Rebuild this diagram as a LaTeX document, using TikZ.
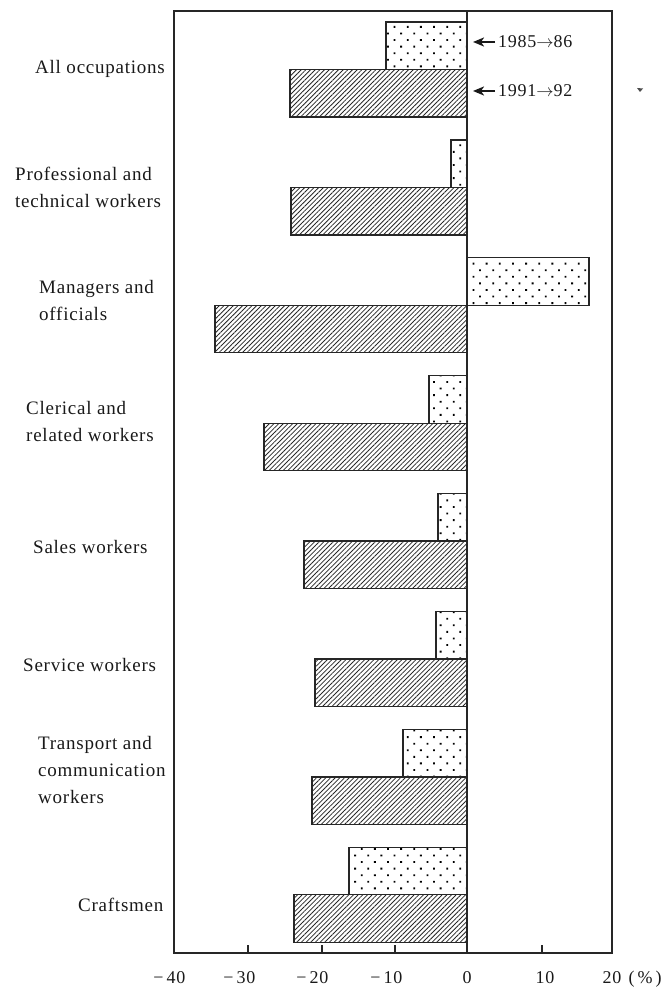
\documentclass[tikz,border=0pt]{standalone}
\usepackage{fontspec}
\setmainfont{Liberation Serif}[LetterSpace=4]
\usetikzlibrary{patterns.meta,arrows.meta}
\begin{document}
\begin{tikzpicture}[x=1pt,y=-1pt,
  lbl/.style={font=\fontsize{19}{27}\selectfont, inner sep=0pt, anchor=west, align=left, text=black!90},
  framestyle/.style={line width=1.4pt, draw=black!85},
  dotbar/.style={draw=black!85, line width=1.3pt, pattern color=black, pattern={Dots[distance=9.3pt,angle=45,radius=1.3pt]}},
  hatchbar/.style={draw=black!85, line width=1.3pt, pattern color=black!85, pattern={Lines[angle=45,distance=3.3pt,line width=0.8pt]}},
  ticklbl/.style={font=\fontsize{18}{20}\selectfont, inner sep=0pt, text=black!90},
  legarrow/.style={-{Stealth[length=11pt,width=9pt,inset=3pt]}, line width=2pt, draw=black!90, shorten <=3pt},
]
\useasboundingbox (0,0) rectangle (665,987);

% bars
\foreach \i/\d/\h in {0/386/290, 1/451/291, 2/589/215, 3/429/264, 4/438/304, 5/436/315, 6/403/312, 7/349/294} {
  \pgfmathsetmacro\t{22+117.9*\i}
  \draw[dotbar] (\d,\t) rectangle (467,\t+47.5);
  \draw[hatchbar] (\h,\t+47.5) rectangle (467,\t+95);
}

% frame and zero line
\coordinate (ftl) at (174,11);
\coordinate (fbr) at (612,953);
\draw[framestyle] (ftl) rectangle (fbr);
\coordinate (ztop) at (467,11);
\coordinate (zbot) at (467,953);
\draw[framestyle] (ztop) -- (zbot);

% ticks
\foreach \x in {248,322,395,542} {
  \draw[framestyle] (\x,953) -- ++(0,-8);
}

% tick labels
\node[ticklbl] (t40) at (176,978) {\llap{−\,}40};
\node[ticklbl] (t30) at (246,978) {\llap{−\,}30};
\node[ticklbl] (t20) at (319,978) {\llap{−\,}20};
\node[ticklbl] (t10) at (393,978) {\llap{−\,}10};
\node[ticklbl] (t0) at (467,978) {0};
\node[ticklbl] (tp10) at (545,978) {10};
\node[ticklbl] (tp20) at (612,978) {20};
\node[ticklbl] (pct) at (645,979) {(\,\%\,)};

% category labels
\node[lbl] (c1) at (35,69) {All occupations};
\node[lbl] (c2) at (15,187) {Professional and\\technical workers};
\node[lbl] (c3) at (39,300) {Managers and\\officials};
\node[lbl] (c4) at (26,421) {Clerical and\\related workers};
\node[lbl] (c5) at (33,547) {Sales workers};
\node[lbl] (c6) at (23,665) {Service workers};
\node[lbl] (c7) at (38,770) {Transport and\\communication\\workers};
\node[lbl] (c8) at (78,905) {Craftsmen};

% legend
\coordinate (a1) at (473,42);
\coordinate (a2) at (473,91);
\node[ticklbl, anchor=west] (l1) at (498,42) {1985$\rightarrow$86};
\node[ticklbl, anchor=west] (l2) at (498,91) {1991$\rightarrow$92};
\draw[legarrow] (l1.west) -- (a1);
\draw[legarrow] (l2.west) -- (a2);

% speck
\fill[black!70] (637,88) -- (643,88.5) -- (640,92) -- cycle;
\end{tikzpicture}
\end{document}
